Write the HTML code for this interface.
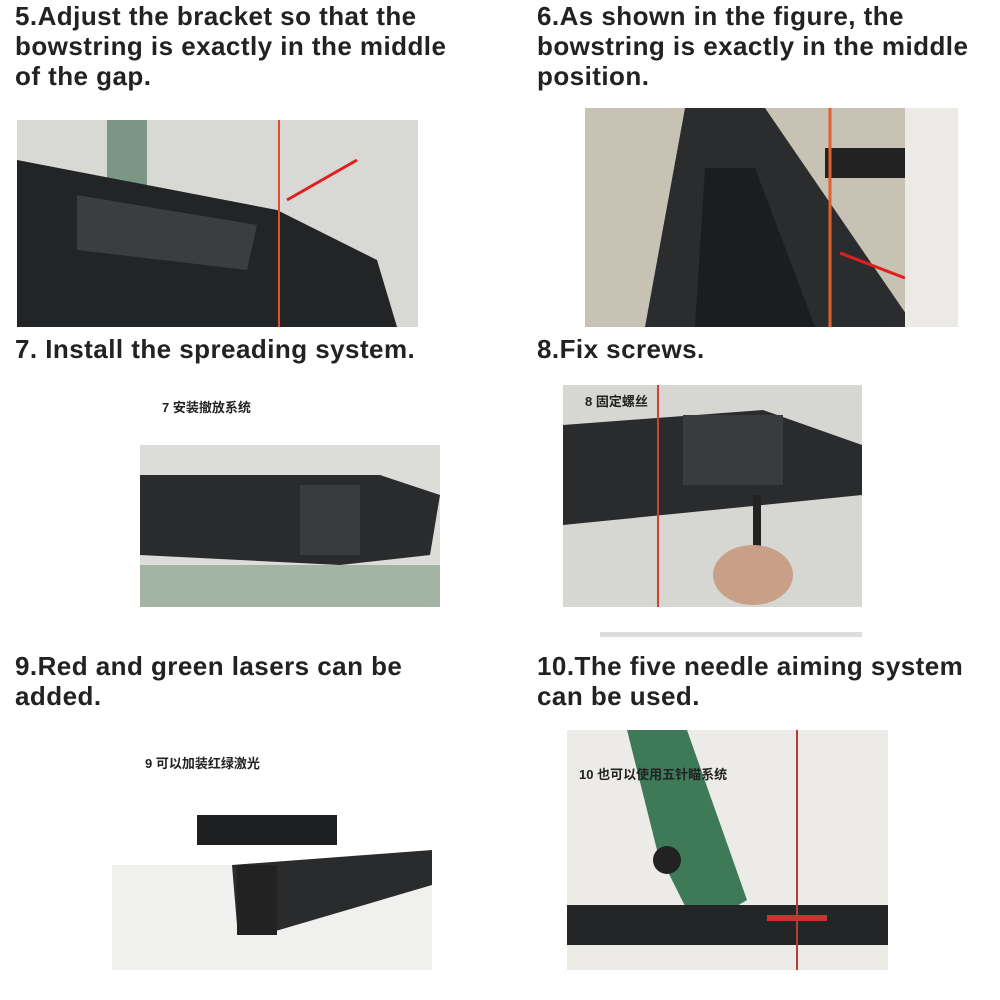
<!DOCTYPE html>
<html><head><meta charset="utf-8"><style>
body{margin:0;width:1000px;height:1000px;background:#fff;position:relative;overflow:hidden;font-family:"Liberation Sans","Noto Sans CJK SC",sans-serif}
.h{position:absolute;font-weight:bold;font-size:26px;line-height:30px;color:#222;letter-spacing:0.45px;white-space:nowrap}
.img{position:absolute;overflow:hidden}
.cn{position:absolute;font-size:13px;font-weight:bold;color:#222;z-index:2}
</style></head><body>
<div class="h" style="left:15px;top:1px">5.Adjust the bracket so that the<br>bowstring is exactly in the middle<br>of the gap.</div>
<div class="h" style="left:537px;top:1px">6.As shown in the figure, the<br>bowstring is exactly in the middle<br>position.</div>
<div class="h" style="left:15px;top:334px">7. Install the spreading system.</div>
<div class="h" style="left:537px;top:334px">8.Fix screws.</div>
<div class="h" style="left:15px;top:651px">9.Red and green lasers can be<br>added.</div>
<div class="h" style="left:537px;top:651px">10.The five needle aiming system<br>can be used.</div>

<div class="img" style="left:17px;top:120px;width:401px;height:207px;background:#d8d8d4">
<svg width="401" height="207"><rect x="90" y="0" width="40" height="207" fill="#3e6b50" opacity=".6"/><polygon points="0,40 260,90 360,140 380,207 0,207" fill="#232426"/><polygon points="60,75 240,105 230,150 60,130" fill="#3c3d40"/><line x1="262" y1="0" x2="262" y2="207" stroke="#e05030" stroke-width="2"/><line x1="340" y1="40" x2="270" y2="80" stroke="#e02020" stroke-width="3"/></svg></div>

<div class="img" style="left:585px;top:108px;width:373px;height:219px;background:#c8c2b4">
<svg width="373" height="219"><polygon points="100,0 180,0 330,219 60,219" fill="#2b2c2e"/><polygon points="120,60 170,60 230,219 110,219" fill="#1c1d1f"/><rect x="240" y="40" width="80" height="30" fill="#222"/><line x1="245" y1="0" x2="245" y2="219" stroke="#e06030" stroke-width="3"/><line x1="320" y1="170" x2="255" y2="145" stroke="#e02020" stroke-width="3"/><rect x="320" y="0" width="53" height="219" fill="#eceae6"/></svg></div>

<div class="img" style="left:140px;top:385px;width:300px;height:222px;background:#fff">
<div class="cn" style="left:22px;top:12px">7 安装撤放系统</div>
<svg width="300" height="222" style="position:absolute;top:0;left:0"><rect x="0" y="60" width="300" height="162" fill="#dcdcd8"/><polygon points="0,90 240,90 300,110 290,170 200,180 0,170" fill="#2a2b2d"/><rect x="160" y="100" width="60" height="70" fill="#3a3b3e"/><rect x="0" y="180" width="300" height="42" fill="#4a7a5a" opacity=".4"/></svg></div>

<div class="img" style="left:563px;top:385px;width:299px;height:222px;background:#d6d6d2">
<svg width="299" height="222" style="position:absolute;top:0;left:0"><polygon points="0,40 200,25 299,60 299,110 200,120 0,140" fill="#2a2b2d"/><rect x="120" y="30" width="100" height="70" fill="#3a3b3e"/><rect x="190" y="110" width="8" height="60" fill="#222"/><ellipse cx="190" cy="190" rx="40" ry="30" fill="#c8a088"/><line x1="95" y1="0" x2="95" y2="222" stroke="#d04030" stroke-width="2"/></svg>
<div class="cn" style="left:22px;top:6px">8 固定螺丝</div></div>
<div class="img" style="left:600px;top:632px;width:262px;height:5px;background:#ddd"></div>

<div class="img" style="left:112px;top:735px;width:320px;height:235px;background:#fff">
<div class="cn" style="left:33px;top:18px">9 可以加装红绿激光</div>
<svg width="320" height="235" style="position:absolute;top:0;left:0"><rect x="0" y="130" width="320" height="105" fill="#f0f0ee"/><rect x="85" y="80" width="140" height="30" fill="#1e1f21"/><polygon points="120,130 320,115 320,150 150,200 125,190" fill="#2a2b2d"/><rect x="125" y="130" width="40" height="70" fill="#222"/></svg></div>

<div class="img" style="left:567px;top:730px;width:321px;height:240px;background:#ecebe8">
<svg width="321" height="240" style="position:absolute;top:0;left:0"><polygon points="60,0 120,0 180,170 130,200 90,120" fill="#3e7a58"/><rect x="0" y="175" width="321" height="40" fill="#242527"/><rect x="200" y="185" width="60" height="6" fill="#d03030"/><line x1="230" y1="0" x2="230" y2="240" stroke="#b04030" stroke-width="2"/><circle cx="100" cy="130" r="14" fill="#222"/></svg>
<div class="cn" style="left:12px;top:34px">10 也可以使用五针瞄系统</div></div>
</body></html>
